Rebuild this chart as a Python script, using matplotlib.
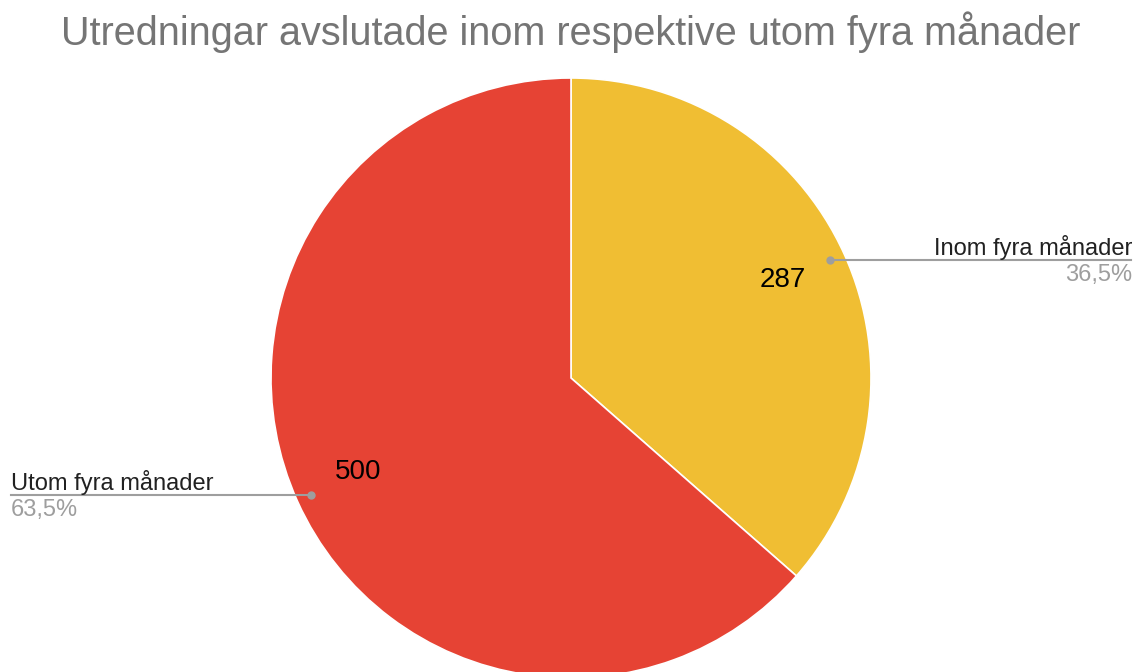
import matplotlib.pyplot as plt

# data
labels = ["Inom fyra månader", "Utom fyra månader"]
values = [287, 500]
colors = ["#F0BE33", "#E64334"]

W, H = 1135, 672
plt.rcParams['font.family'] = ['Liberation Sans', 'DejaVu Sans']

fig = plt.figure(figsize=(W / 100, H / 100), dpi=100)
ax = fig.add_axes([0, 0, 1, 1])

cx, cy, r = 571, H - 378, 300
wedges, _ = ax.pie(values, colors=colors, startangle=90, counterclock=False,
                   center=(cx, cy), radius=r, frame=True,
                   wedgeprops=dict(edgecolor='white', linewidth=1.2))
ax.set_xlim(0, W)
ax.set_ylim(0, H)
ax.set_aspect('equal')
ax.axis('off')

total = sum(values)
pcts = [f"{v / total * 100:.1f}%".replace('.', ',') for v in values]

# value labels inside slices
ax.text(783, H - 280, str(values[0]), fontsize=20, ha='center', va='center', color='black')
ax.text(358, H - 472, str(values[1]), fontsize=20, ha='center', va='center', color='black')

# right leader
ax.plot([830, 1131], [H - 260, H - 260], color='#9E9E9E', lw=1.5)
ax.plot(830, H - 260, 'o', color='#9E9E9E', ms=5)
ax.text(1132, H - 255, labels[0], fontsize=17, ha='right', va='baseline', color='#212121')
ax.text(1132, H - 281, pcts[0], fontsize=17, ha='right', va='baseline', color='#9E9E9E')

# left leader
ax.plot([11, 311], [H - 495, H - 495], color='#9E9E9E', lw=1.5)
ax.plot(311, H - 495, 'o', color='#9E9E9E', ms=5)
ax.text(11, H - 490, labels[1], fontsize=17, ha='left', va='baseline', color='#212121')
ax.text(11, H - 516, pcts[1], fontsize=17, ha='left', va='baseline', color='#9E9E9E')

ax.text(571, H - 32, "Utredningar avslutade inom respektive utom fyra månader",
        fontsize=28.5, ha='center', va='center', color='#757575')

fig.savefig("out.png", dpi=100)
